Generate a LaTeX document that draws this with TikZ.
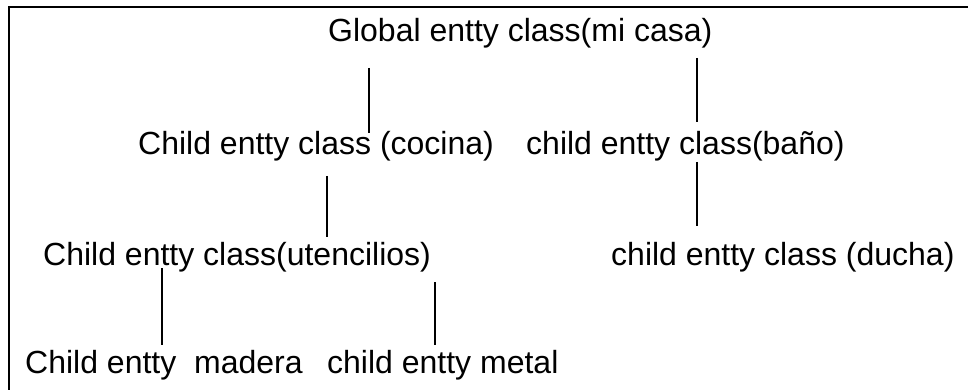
\documentclass[tikz,border=0pt]{standalone}
\usepackage{fontspec}
\setmainfont{Liberation Sans}
\usepackage{tikz}

\begin{document}
\begin{tikzpicture}[
      x=1pt, y=-1pt,
      entity/.style={anchor=base west,inner sep=0pt,font=\fontsize{32}{38}\selectfont},
      link/.style={line width=1.7pt},
      frame/.style={line width=2pt}
    ]
    \useasboundingbox (0,0) rectangle (968,390);
    % Draw the open frame.
    \draw[frame] (8.5,391) -- (8.5,7.5) -- (969,7.5);
    % Place the entity classes.
    \node[entity] (global) at (328,42)  {Global entty class(mi casa)};
    \node[entity] (cocina) at (138,155) {Child entty class (cocina)};
    \node[entity] (bano)   at (526,155) {child entty class(baño)};
    \node[entity] (utens)  at (43,265)  {Child entty class(utencilios)};
    \node[entity] (ducha)  at (611,265) {child entty class (ducha)};
    \node[entity] (madera) at (25,373)  {Child entty\ \ madera};
    \node[entity] (metal)  at (327,373) {child entty metal};
    % Draw the links between levels.
    \draw[link] ([yshift=-26pt]global.base -| 369,0) -- ([yshift=22pt]cocina.base -| 369,0);
    \draw[link] ([yshift=-16pt]global.base -| 697,0) -- ([yshift=33pt]bano.base -| 697,0);
    \draw[link] ([yshift=-21pt]cocina.base -| 327,0) -- ([yshift=28pt]utens.base -| 327,0);
    \draw[link] ([yshift=-7pt]bano.base -| 697,0)    -- ([yshift=39pt]ducha.base -| 697,0);
    \draw[link] ([yshift=-3pt]utens.base -| 162,0)   -- ([yshift=28pt]madera.base -| 162,0);
    \draw[link] ([yshift=-17pt]utens.base -| 435,0)  -- ([yshift=28pt]metal.base -| 435,0);
\end{tikzpicture}
\end{document}
